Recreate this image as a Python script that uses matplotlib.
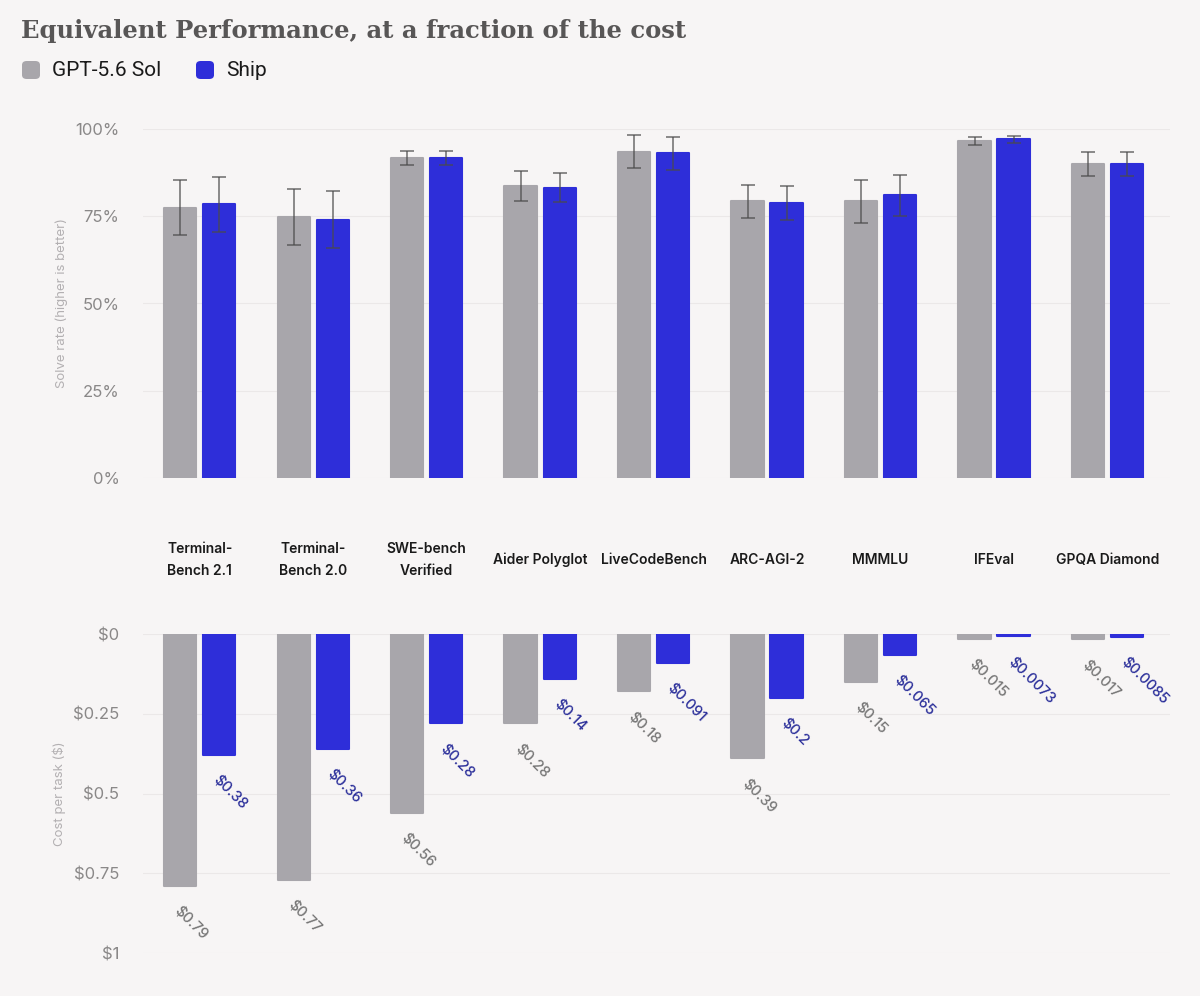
import matplotlib.pyplot as plt
from matplotlib.patches import FancyBboxPatch
from matplotlib.transforms import blended_transform_factory

BG = '#f7f5f5'
GREY = '#a8a6ab'
BLUE = '#2e2ed9'
GRID = '#ebe8e8'
TICK = '#8a8888'

benchmarks = ['Terminal-\nBench 2.1', 'Terminal-\nBench 2.0', 'SWE-bench\nVerified',
              'Aider Polyglot', 'LiveCodeBench', 'ARC-AGI-2', 'MMMLU', 'IFEval', 'GPQA Diamond']
sol_rate = [77.5, 74.9, 91.7, 83.7, 93.5, 79.3, 79.3, 96.6, 90.0]
ship_rate = [78.4, 74.0, 91.7, 83.2, 93.0, 78.8, 81.0, 97.0, 90.0]
sol_err = [8.0, 8.0, 2.0, 4.2, 4.7, 4.7, 6.2, 1.2, 3.4]
ship_err = [7.8, 8.2, 2.0, 4.2, 4.7, 4.9, 5.8, 1.1, 3.4]
sol_cost = [0.79, 0.77, 0.56, 0.28, 0.18, 0.39, 0.15, 0.015, 0.017]
ship_cost = [0.38, 0.36, 0.28, 0.14, 0.091, 0.2, 0.065, 0.0073, 0.0085]

rate_ticks = [0, 25, 50, 75, 100]
cost_ticks = [0, 0.25, 0.5, 0.75, 1.0]
cost_tick_labels = [r'\$0', r'\$0.25', r'\$0.5', r'\$0.75', r'\$1']

W, H = 1200, 996
fig = plt.figure(figsize=(W / 100, H / 100), dpi=100, facecolor=BG)


def px_axes(left, top, right, bottom):
    return fig.add_axes([left / W, (H - bottom) / H, (right - left) / W, (bottom - top) / H])


x = list(range(len(benchmarks)))
off, bw = 0.172, 0.285
x_sol = [i - off for i in x]
x_ship = [i + off for i in x]
bar_kw = dict(width=bw, linewidth=1.5, joinstyle='round', zorder=2)

# --- solve rate panel ---
ax = px_axes(143, 129, 1170, 478)
ax.set_facecolor(BG)
ax.bar(x_sol, sol_rate, color=GREY, edgecolor=GREY, **bar_kw)
ax.bar(x_ship, ship_rate, color=BLUE, edgecolor=BLUE, **bar_kw)
for xs, ys, es in [(x_sol, sol_rate, sol_err), (x_ship, ship_rate, ship_err)]:
    ax.errorbar(xs, ys, yerr=es, fmt='none', ecolor='#4a4a4a', elinewidth=1.1,
                capsize=5, capthick=1.1, alpha=0.8, zorder=3)
ax.set_ylim(0, 100)
ax.set_xlim(-0.5, 8.55)
ax.set_yticks(rate_ticks)
ax.set_yticklabels([f'{t}%' for t in rate_ticks])
ax.set_xticks([])
ax.grid(axis='y', color=GRID, linewidth=0.8, zorder=0)
ax.set_ylabel('Solve rate (higher is better)', fontsize=9.5, color='#b3b0b2', labelpad=5,
              family='Inter')

# --- cost panel ---
ax2 = px_axes(143, 634, 1170, 953)
ax2.set_facecolor(BG)
ax2.bar(x_sol, sol_cost, color=GREY, edgecolor=GREY, **bar_kw)
ax2.bar(x_ship, ship_cost, color=BLUE, edgecolor=BLUE, **bar_kw)
ax2.set_ylim(1.0, 0)
ax2.set_xlim(-0.5, 8.55)
ax2.set_yticks(cost_ticks)
ax2.set_yticklabels(cost_tick_labels)
ax2.set_xticks([])
ax2.grid(axis='y', color=GRID, linewidth=0.8, zorder=0)
ax2.set_ylabel('Cost per task ($)', fontsize=9.5, color='#b3b0b2', labelpad=5, family='Inter')

for xs, vals, col in [(x_sol, sol_cost, '#767676'), (x_ship, ship_cost, '#2b2f9a')]:
    for xi, v in zip(xs, vals):
        ax2.annotate(r'\$' + f'{v:g}', (xi, v), xytext=(1, -13), textcoords='offset points',
                     rotation=-45, rotation_mode='anchor', ha='left', va='top',
                     fontsize=10.5, color=col, family='Inter', fontweight='medium')

for a in (ax, ax2):
    for s in a.spines.values():
        s.set_visible(False)
    a.tick_params(axis='y', length=0, pad=17, labelsize=12, labelcolor=TICK)
    for t in a.get_yticklabels():
        t.set_family('Inter')

# category labels between the panels
tr = blended_transform_factory(ax.transData, fig.transFigure)
for xi, name in zip(x, benchmarks):
    fig.text(xi, (H - 560) / H, name, transform=tr, ha='center', va='center',
             fontsize=10, fontweight='semibold', color='#1a1a1a', family='Inter',
             linespacing=1.75)

# title and legend
fig.text(21 / W, (H - 31) / H, 'Equivalent Performance, at a fraction of the cost',
         fontsize=17.5, fontweight='bold', color='#585656', family='DejaVu Serif',
         ha='left', va='center')
for lx, col, lab in [(22, GREY, 'GPT-5.6 Sol'), (196, BLUE, 'Ship')]:
    fig.add_artist(FancyBboxPatch((lx / W, (H - 79) / H), 18 / W, 18 / H,
                                  boxstyle='round,pad=0,rounding_size=0.004',
                                  transform=fig.transFigure, facecolor=col, edgecolor='none'))
    fig.text((lx + 30) / W, (H - 70) / H, lab, fontsize=15, color='#1a1a1a',
             family='Roboto', ha='left', va='center')

fig.savefig('out.png', dpi=100, facecolor=BG)
